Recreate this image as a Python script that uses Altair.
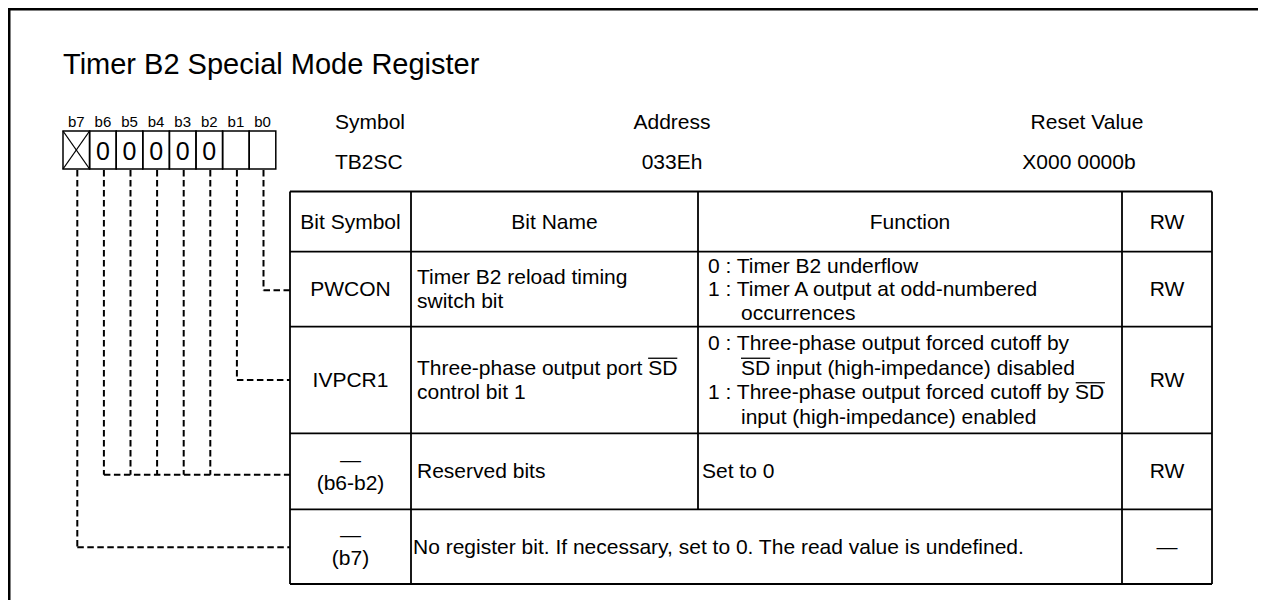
import altair as alt
import pandas as pd

# ---------------- content ----------------
TITLE = "Timer B2 Special Mode Register"
BIT_LABELS = ["b7", "b6", "b5", "b4", "b3", "b2", "b1", "b0"]
BIT_VALUES = ["X", "0", "0", "0", "0", "0", "", ""]
INFO_KEYS = ["Symbol", "Address", "Reset Value"]
INFO_VALUES = ["TB2SC", "033Eh", "X000 0000b"]
TABLE_HEADER = ["Bit Symbol", "Bit Name", "Function", "RW"]
ROW_SYMBOL = [["PWCON"], ["IVPCR1"], ["\u2014", "(b6-b2)"], ["\u2014", "(b7)"]]
ROW_BITS = [["b0"], ["b1"], ["b6", "b5", "b4", "b3", "b2"], ["b7"]]
ROW_NAME = [["Timer B2 reload timing", "switch bit"],
            ["Three-phase output port SD", "control bit 1"],
            ["Reserved bits"],
            ["No register bit. If necessary, set to 0. The read value is undefined."]]
ROW_FUNCTION = [
    ["0 : Timer B2 underflow", "1 : Timer A output at odd-numbered", "occurrences"],
    ["0 : Three-phase output forced cutoff by", "SD input (high-impedance) disabled",
     "1 : Three-phase output forced cutoff by SD", "input (high-impedance) enabled"],
    ["Set to 0"],
    [],
]
ROW_RW = ["RW", "RW", "RW", "\u2014"]
OVERLINED = "SD"

# ---------------- layout ----------------
FONT = "Liberation Sans"
FS = 21
COLS = [290, 411, 698, 1122, 1212]
ROWS = [191.5, 251.7, 326.7, 433.3, 509.3, 584]
BOX_L, BOX_W, BOX_T, BOX_B = 63, 26.6, 131, 169
LS = [23.5, 24.5, 23.5, 23.5]
NAME_INSET = [6, 6, 6, 2]
FUNC_INSET = [10, 10, 4, 0]
FUNC_INDENT = 33
CONNECT_DY = [1, 0, 3.5, 0.5]
VIEW_W, VIEW_H = 1250, 592

# Helvetica / Arial advance widths (per 1000 em)
W = {' ': 278, '(': 333, ')': 333, '-': 333, ':': 278, '.': 278, ',': 278, '\u2014': 1000,
     'A': 667, 'B': 667, 'C': 722, 'D': 722, 'E': 667, 'F': 611, 'G': 778, 'H': 722, 'I': 278,
     'J': 500, 'K': 667, 'L': 556, 'M': 833, 'N': 722, 'O': 778, 'P': 667, 'Q': 778, 'R': 722,
     'S': 667, 'T': 611, 'U': 722, 'V': 667, 'W': 944, 'X': 667, 'Y': 667, 'Z': 611,
     'a': 556, 'b': 556, 'c': 500, 'd': 556, 'e': 556, 'f': 278, 'g': 556, 'h': 556, 'i': 222,
     'j': 222, 'k': 500, 'l': 222, 'm': 833, 'n': 556, 'o': 556, 'p': 556, 'q': 556, 'r': 333,
     's': 500, 't': 278, 'u': 556, 'v': 500, 'w': 722, 'x': 500, 'y': 500, 'z': 500}


def tw(s, fs=FS):
    return sum(W.get(c, 556) for c in s) * fs / 1000.0


texts_c, texts_l, solid, dashed, boxes, overl = [], [], [], [], [], []


def add(lst, x, y, t, fs=FS):
    lst.append({"x": x, "y": y + 1, "t": t, "fs": fs})


def rule(lst, x, y, x2, y2, w=1.8):
    lst.append({"x": x, "y": y, "x2": x2, "y2": y2, "w": w})


# outer frame (left and top edges)
rule(solid, 9, 8, 9, 8 + VIEW_H, 3)
rule(solid, 8, 9, 8 + VIEW_W, 9, 3)

# title
add(texts_l, 63, 64, TITLE, 29)

# bit boxes
bit_cx = {}
for i, (lab, val) in enumerate(zip(BIT_LABELS, BIT_VALUES)):
    x0 = BOX_L + i * BOX_W
    cx = x0 + BOX_W / 2
    bit_cx[lab] = cx + 1
    boxes.append({"x": x0, "x2": x0 + BOX_W, "y": BOX_T, "y2": BOX_B})
    add(texts_c, cx, 120.5, lab, 15)
    if val == "X":
        rule(solid, x0, BOX_T, x0 + BOX_W, BOX_B, 1.3)
        rule(solid, x0, BOX_B, x0 + BOX_W, BOX_T, 1.3)
    elif val:
        add(texts_c, cx, 150.5, val, 25)

# symbol / address / reset value
add(texts_l, 335, 121.7, INFO_KEYS[0])
add(texts_l, 335, 161.7, INFO_VALUES[0])
add(texts_c, 672, 121.7, INFO_KEYS[1])
add(texts_c, 672, 161.7, INFO_VALUES[1])
add(texts_c, 1087, 121.7, INFO_KEYS[2])
add(texts_c, 1079, 161.7, INFO_VALUES[2])

# table grid
top, bot = ROWS[0], ROWS[-1]
for yv in ROWS:
    rule(solid, COLS[0], yv, COLS[-1], yv)
for j, xv in enumerate(COLS):
    if j == 2:
        rule(solid, xv, top, xv, ROWS[4])
    else:
        rule(solid, xv, top, xv, bot)

# header
hc = (ROWS[0] + ROWS[1]) / 2
for j, h in enumerate(TABLE_HEADER):
    add(texts_c, (COLS[j] + COLS[j + 1]) / 2, hc, h)

# rows
for r in range(4):
    y0, y1 = ROWS[r + 1], ROWS[r + 2]
    yc = (y0 + y1) / 2
    ls = LS[r]
    syms = ROW_SYMBOL[r]
    for k, s in enumerate(syms):
        add(texts_c, (COLS[0] + COLS[1]) / 2, yc + (k - (len(syms) - 1) / 2) * ls, s)
    names = ROW_NAME[r]
    for k, s in enumerate(names):
        add(texts_l, COLS[1] + NAME_INSET[r], yc + (k - (len(names) - 1) / 2) * ls, s)
    funcs = ROW_FUNCTION[r]
    for k, s in enumerate(funcs):
        indent = 0 if (s[:2] in ("0 ", "1 ") or r >= 2) else FUNC_INDENT
        add(texts_l, COLS[2] + FUNC_INSET[r] + indent, yc + (k - (len(funcs) - 1) / 2) * ls, s)
    add(texts_c, (COLS[3] + COLS[4]) / 2, yc, ROW_RW[r])
    # dashed connectors
    ty = yc + CONNECT_DY[r]
    xs = [bit_cx[b] for b in ROW_BITS[r]]
    for xv in xs:
        rule(dashed, xv, BOX_B + 1, xv, ty, 2)
    rule(dashed, min(xs), ty, COLS[0], ty, 2)

# overlines on active-low signal names
for t in texts_l:
    s = t["t"]
    idx = s.find(OVERLINED)
    if idx >= 0 and t["fs"] == FS:
        xs0 = t["x"] + tw(s[:idx])
        rule(overl, xs0, t["y"] - 10.5, xs0 + tw(OVERLINED), t["y"] - 10.5, 1.3)

# ---------------- chart ----------------
XS = alt.Scale(domain=[8, 8 + VIEW_W], range=[0, VIEW_W], nice=False, zero=False)
YS = alt.Scale(domain=[8, 8 + VIEW_H], range=[0, VIEW_H], nice=False, zero=False)


def rule_layer(rows, dash=None):
    kw = dict(color="#000", strokeCap="butt")
    if dash:
        kw["strokeDash"] = dash
    return alt.Chart(pd.DataFrame(rows)).mark_rule(**kw).encode(
        x=alt.X("x:Q", scale=XS, axis=None), x2="x2:Q",
        y=alt.Y("y:Q", scale=YS, axis=None), y2="y2:Q",
        strokeWidth=alt.StrokeWidth("w:Q", scale=None, legend=None))


def text_layer(rows, align):
    return alt.Chart(pd.DataFrame(rows)).mark_text(
        align=align, baseline="middle", font=FONT, color="#000").encode(
        x=alt.X("x:Q", scale=XS, axis=None),
        y=alt.Y("y:Q", scale=YS, axis=None),
        text="t:N",
        size=alt.Size("fs:Q", scale=None, legend=None))


box_layer = alt.Chart(pd.DataFrame(boxes)).mark_rect(
    fillOpacity=0, stroke="#000", strokeWidth=1.5).encode(
    x=alt.X("x:Q", scale=XS, axis=None), x2="x2:Q",
    y=alt.Y("y:Q", scale=YS, axis=None), y2="y2:Q")

chart = alt.layer(
    rule_layer(dashed, [6.5, 3.5]),
    rule_layer(solid),
    box_layer,
    rule_layer(overl),
    text_layer(texts_c, "center"),
    text_layer(texts_l, "left"),
).properties(
    width=VIEW_W, height=VIEW_H, padding=0,
    autosize=alt.AutoSizeParams(type="none"), background="white"
).configure_view(stroke=None)

chart.save("out.html", embed_options={"renderer": "svg", "actions": False})
